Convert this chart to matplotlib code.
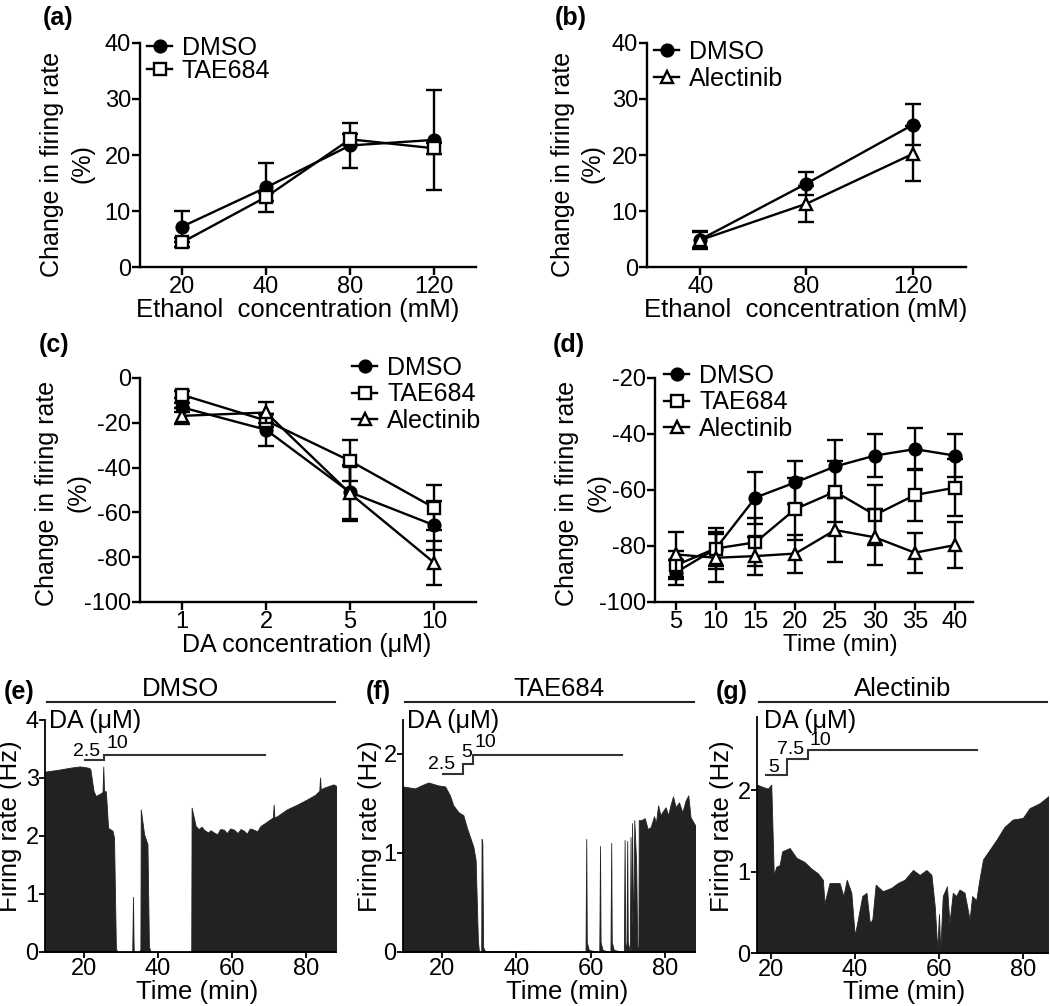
import matplotlib
matplotlib.use('Agg')
import matplotlib.pyplot as plt
from matplotlib.lines import Line2D

plt.rcParams['font.family'] = ['Liberation Sans', 'DejaVu Sans']
plt.rcParams['axes.unicode_minus'] = False

# ---------------- data ----------------
a_conc = ['20', '40', '80', '120']
a_dmso = [7.2, 14.2, 21.7, 22.7]
a_dmso_err = [2.8, 4.4, 4.0, 8.9]
a_tae = [4.4, 12.5, 22.8, 21.2]
a_tae_err = [0.8, 0.8, 1.0, 1.0]

b_conc = ['40', '80', '120']
b_dmso = [4.9, 14.9, 25.4]
b_dmso_err = [1.5, 2.0, 3.7]
b_alec = [4.8, 11.3, 20.2]
b_alec_err = [1.5, 3.2, 4.9]

c_conc = ['1', '2', '5', '10']
c_dmso = [-13.1, -23.1, -51.0, -65.7]
c_dmso_err = [2.0, 7.2, 12.0, 11.0]
c_tae = [-7.5, -19.0, -37.0, -57.9]
c_tae_err = [1.5, 3.0, 9.1, 10.0]
c_alec = [-16.9, -15.4, -51.5, -82.4]
c_alec_err = [3.7, 4.7, 12.4, 9.8]

d_time = [5, 10, 15, 20, 25, 30, 35, 40]
d_dmso = [-89.5, -81.0, -62.7, -57.3, -51.6, -47.7, -45.4, -47.7]
d_dmso_err = [4.5, 6.0, 9.3, 7.7, 9.5, 7.7, 7.5, 7.7]
d_tae = [-86.9, -80.9, -78.7, -66.8, -60.6, -68.9, -61.8, -59.2]
d_tae_err = [5.0, 7.2, 8.6, 11.1, 11.0, 10.7, 9.2, 10.1]
d_alec = [-83.0, -84.2, -83.6, -82.7, -74.3, -76.9, -82.4, -79.7]
d_alec_err = [8.1, 8.6, 6.8, 6.8, 11.4, 10.0, 7.1, 8.1]

# firing-rate traces (time min, rate Hz)
e_trace = [(9.6, 3.11), (13.0, 3.14), (16.6, 3.18), (19.0, 3.20), (21.1, 3.18), (21.8, 3.16),
           (22.7, 2.77), (23.3, 2.69), (24.7, 2.74), (25.1, 2.76), (25.3, 3.20), (25.5, 2.78),
           (26.0, 2.77), (26.6, 2.14), (27.8, 2.09), (28.2, 1.97), (28.7, 0.06), (29.1, 0.0),
           (33.1, 0.0), (33.3, 0.95), (33.5, 0.0), (35.0, 0.0), (35.3, 0.05), (35.4, 2.46),
           (36.3, 2.03), (37.2, 1.86), (37.6, 0.09), (38.1, 0.0), (48.8, 0.0), (49.0, 0.05),
           (49.1, 2.49), (50.2, 2.17), (51.0, 2.12), (51.8, 2.16), (52.4, 2.11), (53.5, 2.06),
           (54.2, 2.10), (55.1, 2.06), (56.0, 2.03), (56.8, 2.12), (57.8, 2.11), (58.6, 2.05),
           (59.5, 2.13), (60.5, 2.11), (61.5, 2.05), (62.3, 2.12), (63.2, 2.09), (64.0, 2.04),
           (64.8, 2.13), (65.8, 2.11), (66.8, 2.08), (67.6, 2.17), (69.0, 2.23), (71.0, 2.32),
           (71.2, 2.54), (71.4, 2.32), (72.1, 2.34), (74.8, 2.46), (77.5, 2.54), (80.2, 2.63),
           (82.4, 2.71), (83.5, 2.78), (83.7, 3.01), (83.9, 2.80), (84.6, 2.83), (87.3, 2.89),
           (88.2, 2.86)]

f_trace = [(9.6, 1.67), (12.8, 1.65), (14.5, 1.68), (16.4, 1.71), (19.1, 1.68), (20.9, 1.67),
           (22.2, 1.58), (23.1, 1.48), (24.5, 1.41), (25.8, 1.38), (26.7, 1.26), (27.6, 1.16),
           (28.5, 1.06), (29.1, 0.93), (29.7, 0.12), (30.0, 0.0), (30.6, 0.0), (30.7, 1.14),
           (30.9, 1.10), (31.1, 0.05), (31.6, 0.01), (58.6, 0.0), (58.8, 1.14), (58.95, 0.1),
           (59.5, 0.02), (62.3, 0.0), (62.5, 1.07), (62.65, 0.1), (63.2, 0.02), (65.3, 0.0),
           (65.5, 1.10), (65.65, 0.1), (66.2, 0.02), (68.9, 0.0), (69.1, 1.13), (69.25, 0.1),
           (69.6, 0.0), (69.8, 1.12), (69.95, 0.1), (70.5, 0.0), (70.7, 1.16), (70.85, 0.2),
           (71.0, 0.3), (71.1, 1.30), (71.3, 0.4), (71.5, 0.5), (71.7, 1.33), (72.2, 0.9),
           (72.5, 0.05), (72.8, 0.05), (72.9, 1.33), (73.6, 1.33), (74.5, 1.35), (75.3, 1.24),
           (76.1, 1.26), (77.0, 1.37), (77.5, 1.30), (78.1, 1.48), (78.7, 1.38), (79.4, 1.42),
           (80.1, 1.46), (80.8, 1.38), (81.4, 1.48), (82.1, 1.57), (82.8, 1.46), (83.7, 1.51),
           (84.6, 1.41), (85.5, 1.53), (86.2, 1.58), (86.8, 1.36), (87.7, 1.30), (88.2, 1.27)]

g_trace = [(16.6, 2.07), (18.0, 2.04), (19.2, 2.02), (20.0, 2.07), (20.6, 0.96), (21.2, 1.06),
           (22.0, 1.08), (22.6, 1.25), (24.4, 1.29), (26.0, 1.17), (27.9, 1.12), (29.5, 1.04),
           (31.1, 0.98), (32.3, 0.90), (32.7, 0.61), (33.9, 0.86), (36.3, 0.86), (37.2, 0.70),
           (38.0, 0.90), (39.1, 0.74), (39.9, 0.22), (40.5, 0.37), (41.7, 0.70), (42.7, 0.74),
           (43.5, 0.37), (44.1, 0.41), (44.9, 0.84), (46.6, 0.76), (48.6, 0.80), (50.2, 0.86),
           (51.8, 0.90), (53.8, 1.02), (55.4, 0.96), (57.0, 1.02), (58.2, 0.96), (59.0, 0.57),
           (59.6, 0.04), (60.0, 0.48), (60.3, 0.02), (60.9, 0.70), (61.9, 0.82), (62.5, 0.37),
           (63.3, 0.74), (64.1, 0.70), (64.9, 0.78), (66.1, 0.74), (67.3, 0.41), (67.9, 0.70),
           (68.9, 0.65), (69.5, 0.86), (70.5, 1.15), (72.1, 1.27), (73.7, 1.39), (75.6, 1.55),
           (77.6, 1.64), (80.0, 1.66), (81.6, 1.78), (84.0, 1.84), (86.4, 1.94)]

# DA application steps: boundaries (min), drawn level (Hz), labels (uM)
e_steps_t = [20.4, 25.6, 69.0]
e_steps_y = [3.31, 3.40]
e_steps_lab = ['2.5', '10']
f_steps_t = [20.4, 25.8, 28.3, 68.4]
f_steps_y = [1.80, 1.90, 1.99]
f_steps_lab = ['2.5', '5', '10']
g_steps_t = [18.8, 23.7, 28.7, 69.0]
g_steps_y = [2.19, 2.39, 2.49]
g_steps_lab = ['5', '7.5', '10']

# ---------------- figure ----------------
W, H = 1050, 1006
fig = plt.figure(figsize=(W / 100, H / 100), dpi=100)


def axpx(l, r, t, b):
    return fig.add_axes([l / W, 1 - b / H, (r - l) / W, (b - t) / H])


def ftext(x, y, s, **kw):
    return fig.text(x / W, 1 - y / H, s, **kw)


LW = 1.7
MS = 8.5
TICKFS = 17
LEGFS = 18
LABFS = 18


def style_top(ax):
    for s in ['top', 'right']:
        ax.spines[s].set_visible(False)
    for s in ['left', 'bottom']:
        ax.spines[s].set_linewidth(LW)
    ax.tick_params(direction='out', length=5.5, width=LW, labelsize=TICKFS, pad=1.0)


STY = {
    'DMSO': dict(marker='o', mfc='black'),
    'TAE684': dict(marker='s', mfc='white'),
    'Alectinib': dict(marker='^', mfc='white'),
}


def series(ax, x, y, err, name, z):
    st = STY[name]
    ax.errorbar(x, y, yerr=err, color='black', lw=LW, elinewidth=LW, capsize=6,
                capthick=LW, marker=st['marker'], ms=MS, mfc=st['mfc'], mec='black',
                mew=LW, zorder=z, clip_on=False)


def legend(ax, names, x, y, spacing):
    handles = [Line2D([], [], color='black', lw=LW, marker=STY[n]['marker'], ms=MS,
                      mfc=STY[n]['mfc'], mec='black', mew=LW) for n in names]
    ax.legend(handles, names, loc='upper left', bbox_to_anchor=(x, y),
              bbox_transform=fig.transFigure, frameon=False, fontsize=LEGFS,
              borderpad=0, borderaxespad=0, handlelength=1.0, handletextpad=0.4,
              labelspacing=spacing)


def ylab2(xc1, xc2, yc):
    ftext(xc1, yc, 'Change in firing rate', fontsize=LABFS, rotation=90, ha='center', va='center')
    ftext(xc2, yc, '(%)', fontsize=LABFS, rotation=90, ha='center', va='center')


# ---- (a)
ax = axpx(140, 476, 43, 267)
style_top(ax)
xs = list(range(len(a_conc)))
series(ax, xs, a_dmso, a_dmso_err, 'DMSO', 3)
series(ax, xs, a_tae, a_tae_err, 'TAE684', 4)
ax.set_xlim(-0.5, len(a_conc) - 0.5)
ax.set_ylim(0, 40)
ax.set_yticks([0, 10, 20, 30, 40])
ax.set_xticks(xs)
ax.set_xticklabels(a_conc)
legend(ax, ['DMSO', 'TAE684'], 147 / W, 1 - 36 / H, -0.04)
ftext(298, 310, 'Ethanol  concentration (mM)', fontsize=18.5, ha='center', va='center')
ylab2(52, 82, 164)
ftext(43, 18, '(a)', fontsize=18, fontweight='bold', ha='left', va='center')

# ---- (b)
ax = axpx(647, 966, 43, 267)
style_top(ax)
xs = list(range(len(b_conc)))
series(ax, xs, b_dmso, b_dmso_err, 'DMSO', 3)
series(ax, xs, b_alec, b_alec_err, 'Alectinib', 4)
ax.set_xlim(-0.5, len(b_conc) - 0.5)
ax.set_ylim(0, 40)
ax.set_yticks([0, 10, 20, 30, 40])
ax.set_xticks(xs)
ax.set_xticklabels(b_conc)
legend(ax, ['DMSO', 'Alectinib'], 654 / W, 1 - 40 / H, 0.1)
ftext(806, 310, 'Ethanol  concentration (mM)', fontsize=18.5, ha='center', va='center')
ylab2(563, 593, 164)
ftext(555, 18, '(b)', fontsize=18, fontweight='bold', ha='left', va='center')

# ---- (c)
ax = axpx(140, 476, 378, 602)
style_top(ax)
xs = list(range(len(c_conc)))
series(ax, xs, c_dmso, c_dmso_err, 'DMSO', 3)
series(ax, xs, c_tae, c_tae_err, 'TAE684', 4)
series(ax, xs, c_alec, c_alec_err, 'Alectinib', 5)
ax.set_xlim(-0.5, len(c_conc) - 0.5)
ax.set_ylim(-100, 0)
ax.set_yticks([-100, -80, -60, -40, -20, 0])
ax.set_xticks(xs)
ax.set_xticklabels(c_conc)
legend(ax, ['DMSO', 'TAE684', 'Alectinib'], 352 / W, 1 - 356 / H, 0.09)
ftext(307, 645, 'DA concentration (\u03bcM)', fontsize=LABFS, ha='center', va='center')
ylab2(47, 78, 493)
ftext(39, 345, '(c)', fontsize=18, fontweight='bold', ha='left', va='center')

# ---- (d)
ax = axpx(655, 973, 378, 602)
style_top(ax)
series(ax, d_time, d_dmso, d_dmso_err, 'DMSO', 3)
series(ax, d_time, d_tae, d_tae_err, 'TAE684', 4)
series(ax, d_time, d_alec, d_alec_err, 'Alectinib', 5)
ax.set_xlim(2.4, 42.3)
ax.set_ylim(-100, -20)
ax.set_yticks([-100, -80, -60, -40, -20])
ax.set_xticks(d_time)
legend(ax, ['DMSO', 'TAE684', 'Alectinib'], 664 / W, 1 - 364 / H, 0.09)
ftext(840, 645, 'Time (min)', fontsize=17.5, ha='center', va='center')
ylab2(567, 598, 493)
ftext(553, 345, '(d)', fontsize=18, fontweight='bold', ha='left', va='center')

# ---------------- traces ----------------
TRACE_C = '#222222'


def style_trace(ax):
    for s in ['top', 'right']:
        ax.spines[s].set_visible(False)
    for s in ['left', 'bottom']:
        ax.spines[s].set_linewidth(1.3)
    ax.tick_params(direction='out', length=4, width=1.3, labelsize=17, pad=0.5)


def trace_panel(l, r, t, b, xlim, ylim, yticks, trace, steps_t, steps_y, labs,
                lab_pos, title, title_x, panel, panel_x, ylab_x, xlab_x, da_x):
    ax = axpx(l, r, t, b)
    style_trace(ax)
    tt = [p[0] for p in trace]
    rr = [p[1] for p in trace]
    ax.fill_between(tt, rr, 0, color=TRACE_C, lw=0.6, edgecolor=TRACE_C)
    ax.set_xlim(*xlim)
    ax.set_ylim(*ylim)
    ax.set_yticks(yticks)
    ax.set_xticks([20, 40, 60, 80])
    sx, sy = [], []
    for i, lev in enumerate(steps_y):
        sx += [steps_t[i], steps_t[i + 1]]
        sy += [lev, lev]
    ax.plot(sx, sy, color='#333333', lw=1.5, clip_on=False, solid_joinstyle='miter')
    for s, (px, py) in zip(labs, lab_pos):
        ax.text(px, py, s, fontsize=14, ha='center', va='center')
    ftext(title_x, 689, title, fontsize=18.5, ha='center', va='center')
    fig.add_artist(Line2D([(l + 2) / W, (r - 1) / W], [1 - 702 / H, 1 - 702 / H],
                          color='#222222', lw=1.5))
    ftext(panel_x, 692, panel, fontsize=18, fontweight='bold', ha='left', va='center')
    ftext(ylab_x, 826, 'Firing rate (Hz)', fontsize=18.5, rotation=90, ha='center', va='center')
    ftext(xlab_x, 992, 'Time (min)', fontsize=18.5, ha='center', va='center')
    ftext(da_x, 721, 'DA (\u03bcM)', fontsize=18, ha='left', va='center')
    return ax


trace_panel(45, 336, 720, 952, (9.6, 88.0), (0, 4), [0, 1, 2, 3, 4], e_trace,
            e_steps_t, e_steps_y, e_steps_lab, [(20.9, 3.45), (29.0, 3.60)],
            'DMSO', 180, '(e)', 4, 10, 197, 49)
trace_panel(403, 695, 720, 952, (9.6, 88.0), (0, 2.34), [0, 1, 2], f_trace,
            f_steps_t, f_steps_y, f_steps_lab, [(20.0, 1.89), (26.7, 2.01), (31.7, 2.11)],
            'TAE684', 559, '(f)', 366, 370, 567, 407)
trace_panel(757, 1048, 717, 953, (16.6, 86.0), (0, 2.9), [0, 1, 2], g_trace,
            g_steps_t, g_steps_y, g_steps_lab, [(20.5, 2.28), (24.6, 2.50), (31.7, 2.61)],
            'Alectinib', 903, '(g)', 716, 722, 904, 764)

fig.savefig('out.png', dpi=100)
